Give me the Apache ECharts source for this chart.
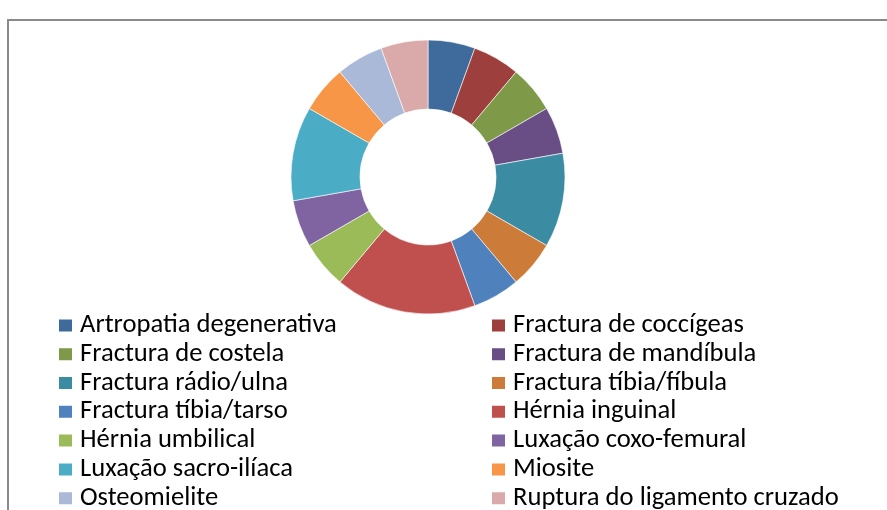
<!DOCTYPE html>
<html>
<head>
<meta charset="utf-8">
<script src="https://cdn.jsdelivr.net/npm/echarts@6/dist/echarts.min.js"></script>
<style>
html,body{margin:0;padding:0;background:#fff;}
#c{width:887px;height:510px;}
</style>
</head>
<body>
<div id="c"></div>
<script>
const categories = [
  "Artropatia degenerativa", "Fractura de coccígeas", "Fractura de costela",
  "Fractura de mandíbula", "Fractura rádio/ulna", "Fractura tíbia/fíbula",
  "Fractura tíbia/tarso", "Hérnia inguinal", "Hérnia umbilical",
  "Luxação coxo-femural", "Luxação sacro-ilíaca", "Miosite",
  "Osteomielite", "Ruptura do ligamento cruzado"
];
const values = [1, 1, 1, 1, 2, 1, 1, 3, 1, 1, 2, 1, 1, 1];
const colors = [
  "#3E6A9C", "#9C3F3D", "#7E9A48", "#694E86", "#3B8CA2", "#CD7B38",
  "#4F81BD", "#C0504D", "#9BBB59", "#8064A2", "#4BACC6", "#F79646",
  "#A9B9D7", "#D9AAA9"
];

const chart = echarts.init(document.getElementById('c'), null, {renderer: 'canvas'});
const fontFamily = "Calibri, Carlito, 'Liberation Sans', Arial, sans-serif";
const leftCol = categories.filter((_, i) => i % 2 === 0);
const rightCol = categories.filter((_, i) => i % 2 === 1);
const legendCommon = {
  orient: 'vertical',
  top: 311,
  height: 300,
  padding: 0,
  itemGap: 0,
  itemWidth: 15,
  itemHeight: 14,
  icon: 'rect',
  selectedMode: false,
  textStyle: {fontFamily: fontFamily, fontSize: 26.6, color: '#000', lineHeight: 28.8, padding: [0, 0, 0, 2]}
};
chart.setOption({
  animation: false,
  color: colors,
  graphic: [{
    type: 'rect',
    shape: {x: 8, y: 20, width: 900, height: 520},
    style: {fill: 'none', stroke: '#8a8a8a', lineWidth: 2},
    silent: true
  }],
  legend: [
    Object.assign({}, legendCommon, {left: 57, width: 420, data: leftCol}),
    Object.assign({}, legendCommon, {left: 490, width: 390, data: rightCol})
  ],
  series: [{
    type: 'pie',
    center: [428, 177],
    radius: [68, 137],
    startAngle: 90,
    clockwise: true,
    label: {show: false},
    labelLine: {show: false},
    itemStyle: {borderColor: '#fff', borderWidth: 0.6},
    emphasis: {disabled: true},
    data: categories.map((n, i) => ({name: n, value: values[i]}))
  }]
});
</script>
</body>
</html>
